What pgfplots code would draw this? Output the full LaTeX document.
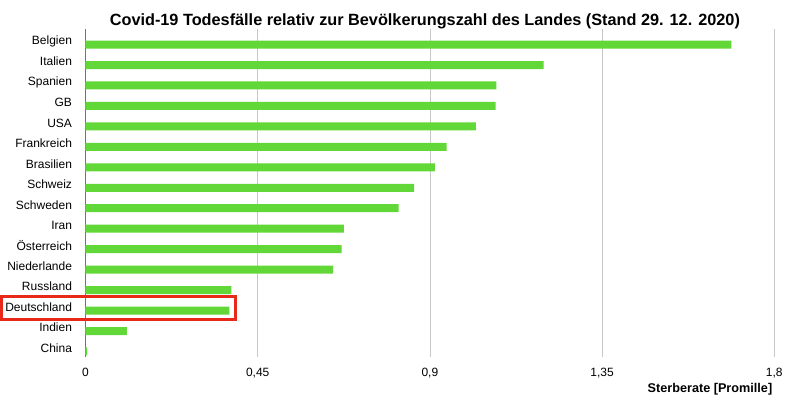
\documentclass[border=0pt]{standalone}
\usepackage{pgfplots}
\pgfplotsset{compat=1.18}
\usepackage{fontspec}
\setmainfont{Liberation Sans}
\definecolor{barg}{RGB}{98,216,56}
\definecolor{boxred}{RGB}{232,40,24}
\begin{document}
\begin{tikzpicture}[x=1pt,y=1pt]
\def\px{0.75}
\useasboundingbox (-85.5*\px,-46*\px) rectangle (714.5*\px,357*\px);
\begin{axis}[
  at={(0,0)}, anchor=south west,
  scale only axis,
  width=516.6pt, height=246pt,
  xmin=0, xmax=1.8,
  ymin=-0.54, ymax=15.49,
  y dir=reverse,
  xbar, bar width=6pt, bar shift=-3.375pt,
  axis line style={draw=none},
  xtick={0.45,0.9,1.35,1.8},
  xticklabels={{0,45},{0,9},{1,35},{1,8}},
  extra x ticks={0},
  extra x tick labels={0},
  extra x tick style={grid style={draw=black!55, line width=0.6pt}},
  xmajorgrids,
  grid style={draw=black!22, line width=0.6pt},
  major tick length=0pt,
  ytick={0,...,15},
  yticklabels={Belgien,Italien,Spanien,GB,USA,Frankreich,Brasilien,Schweiz,Schweden,Iran,Österreich,Niederlande,Russland,Deutschland,Indien,China},
  y tick label style={font=\fontsize{9}{10}\selectfont, anchor=east, xshift=-6.6pt, yshift=-0.8pt},
  x tick label style={font=\fontsize{9}{10}\selectfont, yshift=-4.5pt},
  /pgf/number format/assume math mode=true,
  title={\bfseries Covid-19 Todesfälle relativ zur Bevölkerungszahl des Landes (Stand 29. 12. 2020)},
  title style={font=\fontsize{12.2}{14}\selectfont, at={(0.5,1)}, anchor=base, yshift=-3.75pt, xshift=-3.75pt},
  xlabel={\bfseries Sterberate [Promille]},
  xlabel style={font=\fontsize{9.5}{11}\selectfont, at={(1,0)}, anchor=north east, yshift=-16pt, xshift=2pt},
  clip=false,
]
\addplot[draw=none, fill=barg] coordinates {
(1.688,0) (1.197,1) (1.074,2) (1.072,3) (1.020,4) (0.944,5) (0.913,6) (0.859,7)
(0.818,8) (0.675,9) (0.669,10) (0.647,11) (0.381,12) (0.376,13) (0.108,14) (0.004,15)
};
\draw[boxred, line width=2.2pt] (axis cs:-0.219,12.55) rectangle (axis cs:0.393,13.66);
\end{axis}
\end{tikzpicture}
\end{document}
